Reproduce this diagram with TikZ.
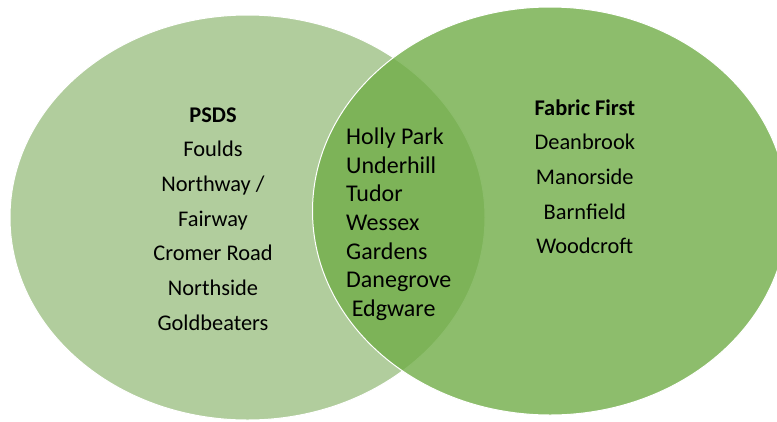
\documentclass[tikz,border=0pt]{standalone}
\usepackage{fontspec}
\setmainfont{Carlito}
\definecolor{leftgreen}{RGB}{177,205,157}
\definecolor{rightgreen}{RGB}{112,173,71}
\begin{document}
\begin{tikzpicture}[x=1pt,y=-1pt,
  setcircle/.style={draw=white, line width=1pt},
  ctext/.style={font=\fontsize{22.4}{26}\selectfont, inner sep=0pt, anchor=base, text=black},
  otext/.style={font=\fontsize{24}{28}\selectfont, inner sep=0pt, anchor=base west, text=black}]
\useasboundingbox (0,0) rectangle (777,421);
\clip (0,0) rectangle (777,421);
\draw[setcircle, fill=leftgreen] (247.5,217.5) ellipse [x radius=237.5, y radius=202.5];
\draw[setcircle, fill=rightgreen, fill opacity=0.8] (550,211) ellipse [x radius=237.5, y radius=204];
% left set
\node[ctext, font=\fontsize{22.4}{26}\selectfont\bfseries] (psds) at (213,122) {PSDS};
\foreach \t [count=\i] in {Foulds, Northway /, Fairway, Cromer Road, Northside, Goldbeaters}
  \node[ctext] (left\i) at (213,{122+34.67*\i}) {\t};
% right set
\node[ctext, font=\fontsize{22.4}{26}\selectfont\bfseries] (fabric) at (584.8,115) {Fabric First};
\foreach \t [count=\i] in {Deanbrook, Manorside, Barnfield, Woodcroft}
  \node[ctext] (right\i) at (584.8,{115+34.67*\i}) {\t};
% overlap
\foreach \t [count=\i] in {Holly Park, Underhill, Tudor, Wessex, Gardens, Danegrove}
  \node[otext] (mid\i) at (346,{144.3+28.7*(\i-1)}) {\t};
\node[otext] (mid7) at (351.6,316.5) {Edgware};
\end{tikzpicture}
\end{document}
